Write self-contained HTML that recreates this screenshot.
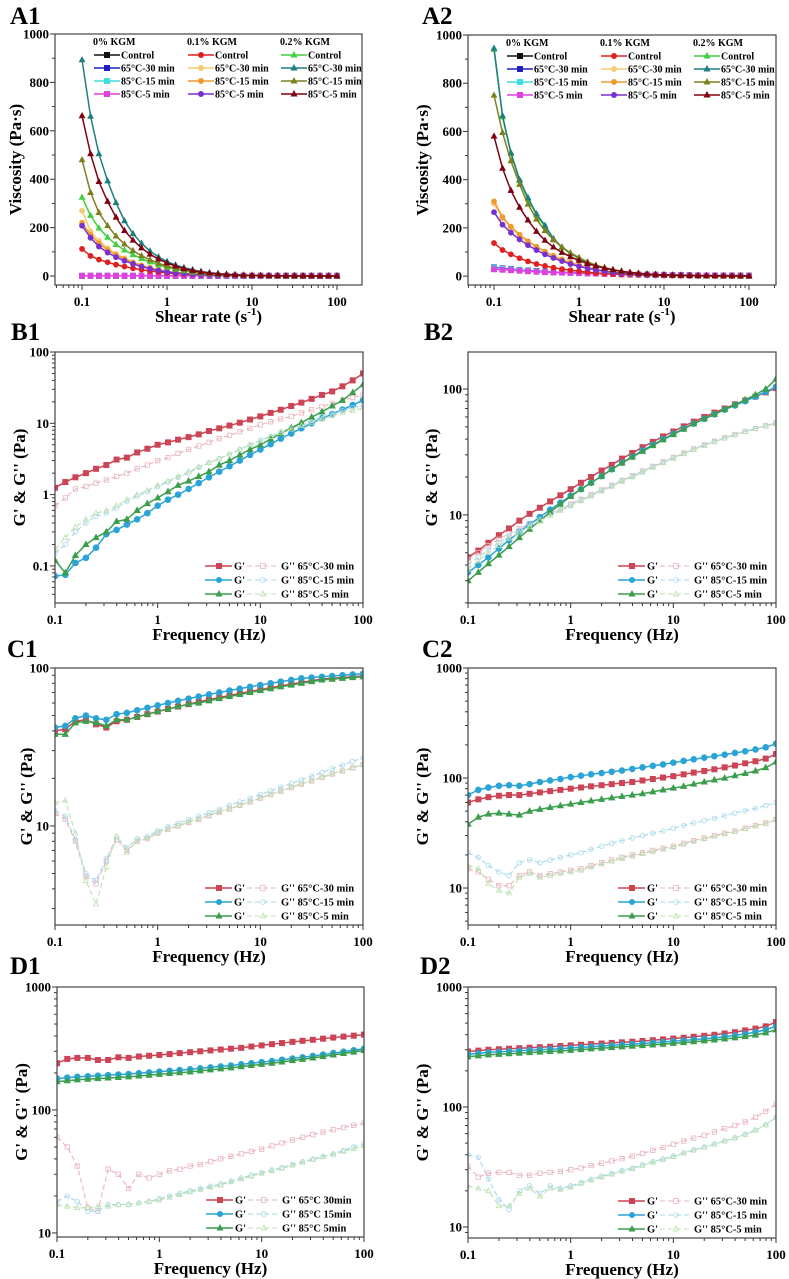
<!DOCTYPE html>
<html><head><meta charset="utf-8"><style>
html,body{margin:0;padding:0;background:#fff;}
svg{display:block;font-family:"Liberation Serif",serif;font-weight:bold;}
</style></head><body>
<svg id="fig" width="789" height="1279" viewBox="0 0 789 1279" xmlns="http://www.w3.org/2000/svg"></svg>
<script>
// ---------- shared x values ----------
const shearRates = [0.1,0.126,0.158,0.2,0.251,0.316,0.398,0.501,0.631,0.794,1,1.26,1.58,2,2.51,3.16,3.98,5.01,6.31,7.94,10,12.6,15.8,20,25.1,31.6,39.8,50.1,63.1,79.4,100];
const freqs = [0.1,0.126,0.158,0.2,0.251,0.316,0.398,0.501,0.631,0.794,1,1.26,1.58,2,2.51,3.16,3.98,5.01,6.31,7.94,10,12.6,15.8,20,25.1,31.6,39.8,50.1,63.1,79.4,100];
const viscTicks = [0,200,400,600,800,1000];
const xLogTicks = ["0.1","1","10","100"];
// ---------- A1 viscosity ----------
const a1_k0_control = [1,1,1,1,1,1,1,1,1,1,1,1,1,1,1,1,1,1,1,1,1,1,1,1,1,1,1,1,1,1,1];
const a1_k0_6530 = [1,1,1,1,1,1,1,1,1,1,1,1,1,1,1,1,1,1,1,1,1,1,1,1,1,1,1,1,1,1,1];
const a1_k0_8515 = [1,1,1,1,1,1,1,1,1,1,1,1,1,1,1,1,1,1,1,1,1,1,1,1,1,1,1,1,1,1,1];
const a1_k0_855 = [1,1,1,1,1,1,1,1,1,1,1,1,1,1,1,1,1,1,1,1,1,1,1,1,1,1,1,1,1,1,1];
const a1_k1_control = [112,83,68,57,47,39,32,26,21,17,13,10,8,6,5,4,3,2.5,2,1.5,1.2,1,0.8,0.6,0.5,0.4,0.3,0.3,0.2,0.2,0.2];
const a1_k1_6530 = [270,185,145,115,92,74,58,45,35,27,20,15,11,8,6,4.5,3.5,2.5,2,1.5,1.2,1,0.8,0.6,0.5,0.4,0.3,0.3,0.2,0.2,0.2];
const a1_k1_8515 = [220,170,135,108,87,70,55,43,33,25,19,14,10.5,8,6,4.5,3.4,2.6,2,1.5,1.2,1,0.8,0.6,0.5,0.4,0.3,0.3,0.2,0.2,0.2];
const a1_k1_855 = [208,158,122,97,78,63,50,39,30,23,17,13,10,7.5,5.6,4.2,3.2,2.4,1.8,1.4,1.1,0.9,0.7,0.6,0.5,0.4,0.3,0.3,0.2,0.2,0.2];
const a1_k2_control = [325,250,198,160,130,107,88,72,58,46,36,28,21,16,12,9,7,5,4,3,2.3,1.8,1.4,1.1,0.9,0.7,0.5,0.4,0.3,0.3,0.2];
const a1_k2_6530 = [893,660,505,393,303,228,175,135,103,79,60,46,35,26,19,14,10,7.5,5.5,4,3,2.3,1.8,1.4,1.1,0.8,0.6,0.5,0.4,0.3,0.2];
const a1_k2_8515 = [480,345,262,208,165,132,105,84,67,53,41,32,24,18,13.5,10,7.5,5.5,4,3,2.3,1.8,1.4,1.1,0.8,0.6,0.5,0.4,0.3,0.3,0.2];
const a1_k2_855 = [662,505,390,308,243,188,148,116,90,70,54,41,31,23,17,12.5,9,6.5,4.8,3.5,2.6,2,1.5,1.2,0.9,0.7,0.5,0.4,0.3,0.3,0.2];
// ---------- A2 viscosity ----------
const a2_k0_control = [30,28,26,24,22,20,18,16,15,14,13,12,11,10,9,8,7,6.5,6,5.5,5,4.5,4,3.5,3,2.8,2.5,2.2,2,1.8,1.5];
const a2_k0_6530 = [36,32,29,26,23,21,19,17,15.5,14,13,12,11,10,9,8,7,6.5,6,5.5,5,4.5,4,3.5,3,2.8,2.5,2.2,2,1.8,1.5];
const a2_k0_8515 = [33,30,27,25,22,20,18,16.5,15,14,13,12,11,10,9,8,7,6.5,6,5.5,5,4.5,4,3.5,3,2.8,2.5,2.2,2,1.8,1.5];
const a2_k0_855 = [28,26,24,22,20,18,16,15,14,13,12,11,10,9,8,7,6.5,6,5.5,5,4.5,4,3.5,3,2.8,2.5,2.2,2,1.8,1.5,1.3];
const a2_k1_control = [137,108,90,74,61,50,42,35,29,24,20,16,13,10,8,6.5,5,4,3.2,2.5,2,1.6,1.3,1,0.8,0.6,0.5,0.4,0.3,0.3,0.2];
const a2_k1_6530 = [300,240,200,170,143,120,100,83,68,55,44,35,27,21,16,12,9,7,5,4,3,2.4,1.9,1.5,1.2,0.9,0.7,0.5,0.4,0.3,0.2];
const a2_k1_8515 = [310,245,205,172,145,122,102,84,69,56,45,36,28,22,17,13,10,7.5,5.5,4,3,2.4,1.9,1.5,1.2,0.9,0.7,0.5,0.4,0.3,0.2];
const a2_k1_855 = [265,213,180,152,128,108,90,75,62,50,40,32,25,19.5,15,11.5,9,7,5,4,3,2.4,1.9,1.5,1.2,0.9,0.7,0.5,0.4,0.3,0.2];
const a2_k2_control = [940,660,508,395,320,253,205,152,118,93,73,56,43,33,25,19,14,10.5,7.7,5.8,4.3,3.3,2.5,1.9,1.4,1.1,0.8,0.6,0.5,0.4,0.3];
const a2_k2_6530 = [945,665,512,400,325,258,210,155,120,95,75,57,44,34,26,19.5,14.5,11,8,6,4.5,3.4,2.6,2,1.5,1.1,0.8,0.6,0.5,0.4,0.3];
const a2_k2_8515 = [750,595,478,380,298,236,188,150,120,96,77,59,45,35,27,20,15,11,8,6,4.5,3.4,2.6,2,1.5,1.1,0.8,0.6,0.5,0.4,0.3];
const a2_k2_855 = [580,447,355,285,232,185,148,120,98,80,65,52,42,33,26,20,15,11.5,8.5,6.5,5,3.8,2.9,2.2,1.7,1.3,1,0.7,0.5,0.4,0.3];
// ---------- B1 ----------
const b1_gp_6530 = [1.25,1.5,1.75,2.0,2.3,2.6,3.1,3.3,3.9,4.4,5.0,5.4,5.9,6.4,7.0,7.8,8.5,9.3,10.2,11.3,12.5,14,15.5,17.5,19.5,22,25,28,33,40,50];
const b1_gpp_6530 = [0.7,0.9,1.2,1.3,1.45,1.6,1.8,2.0,2.3,2.6,3.0,3.3,3.8,4.3,4.8,5.4,6.1,6.8,7.6,8.5,9.5,10.5,11.5,12.5,14,15.5,17,19,21,23,25];
const b1_gp_8515 = [0.072,0.075,0.11,0.13,0.18,0.28,0.32,0.38,0.45,0.55,0.70,0.85,1.0,1.2,1.45,1.75,2.1,2.5,3.0,3.6,4.3,5.1,6.1,7.2,8.5,10,11.8,13.5,15.5,18,21];
const b1_gpp_8515 = [0.15,0.2,0.3,0.4,0.5,0.55,0.65,0.8,0.95,1.1,1.3,1.5,1.75,2.0,2.4,2.8,3.2,3.7,4.3,5.0,5.8,6.6,7.6,8.6,9.8,11,12.3,13.5,15,16.5,18];
const b1_gp_855 = [0.12,0.08,0.14,0.2,0.25,0.3,0.42,0.45,0.6,0.75,0.9,1.1,1.35,1.55,1.8,2.1,2.6,3.0,3.6,4.3,5.0,6.0,7.2,8.6,10.2,12.2,14.5,17.5,21,27,35];
const b1_gpp_855 = [0.17,0.25,0.35,0.45,0.55,0.6,0.7,0.85,1.0,1.15,1.35,1.55,1.8,2.1,2.45,2.8,3.2,3.7,4.3,5.0,5.7,6.5,7.4,8.3,9.3,10.3,11.5,12.7,14,15,16.5];
// ---------- B2 ----------
const b2_gp_6530 = [4.6,5.2,6.0,6.9,7.8,9.0,10.2,11.4,12.8,14.3,16,18,20,22.5,25,28,31,34.5,38,42,46,50.5,55,60,65,70,75.5,81,87,94,102];
const b2_gpp_6530 = [4.4,5.0,5.7,6.4,7.1,7.8,8.5,9.3,10.2,11.2,12.2,13.3,14.5,15.8,17.2,18.8,20.5,22.3,24.3,26.4,28.6,31,33.5,36,38.5,41,43.5,46,48.5,51,54];
const b2_gp_8515 = [3.5,4.0,4.6,5.4,6.3,7.3,8.4,9.6,11,12.5,14.2,16,18,20.3,23,26,29,32.5,36,40,44,48.5,53,58,63,68.5,74,80,87,95,104];
const b2_gpp_8515 = [4.0,4.6,5.3,6.0,6.8,7.6,8.4,9.2,10.1,11.0,12,13.1,14.3,15.6,17,18.6,20.3,22.1,24.1,26.2,28.4,30.8,33.2,35.7,38.2,40.8,43.4,46,48.6,51.2,54];
const b2_gp_855 = [3.0,3.5,4.1,4.8,5.6,6.6,7.7,9.0,10.5,12.2,14,16,18,20.3,23,25.8,28.8,32,35.5,39.5,43.5,48,53,58,63,69,75,82,90,100,120];
const b2_gpp_855 = [3.7,4.3,5.0,5.7,6.5,7.3,8.1,9.0,9.9,10.8,11.8,12.9,14.1,15.4,16.8,18.4,20,21.8,23.8,25.9,28.1,30.5,33,35.5,38,40.6,43.2,45.8,48.4,51,53];
// ---------- C1 ----------
const c1_gp_6530 = [40,41,46,47,44,42,46,47,49,51,53,55,57,59,61,63,65,67,69,71,73,75,77,79,81,83,85,86,87,88,89];
const c1_gpp_6530 = [12,11,8,4.8,4.3,6,8.2,7.0,8.0,8.3,9.0,9.5,10,10.5,11,11.6,12.2,12.8,13.5,14.2,15,15.8,16.6,17.5,18.4,19.3,20.3,21.3,22.3,23.3,24.5];
const c1_gp_8515 = [42,43,48,50,48,47,51,52,54,56,58,60,62,64,66,68,70,72,74,76,78,80,82,84,86,87,88,89,90,91,92];
const c1_gpp_8515 = [12.5,11.5,8.2,5.0,4.5,6.2,8.5,7.3,8.3,8.6,9.3,9.9,10.4,11,11.5,12.1,12.8,13.5,14.2,15,15.8,16.7,17.6,18.6,19.6,20.7,21.8,23,24.3,25.6,27];
const c1_gp_855 = [38,38,45,46,45,43,47,47,49,51,53,55,57,59,60,62,64,66,68,70,72,74,76,78,80,82,84,85,86,87,88];
const c1_gpp_855 = [14,14.5,9,4.5,3.2,5.5,8.6,6.8,8.1,8.4,9.1,9.6,10.1,10.6,11.1,11.7,12.3,12.9,13.6,14.3,15.1,15.9,16.7,17.6,18.5,19.4,20.4,21.4,22.4,23.4,24.5];
// ---------- C2 ----------
const c2_gp_6530 = [60,64,67,69,70,70,72,74,76,78,80,82,84,86,88,90,92,95,98,101,104,108,112,116,120,125,130,136,142,150,165];
const c2_gpp_6530 = [15,14,12,10.5,10.5,13,14,13,13.5,14,14.5,15,16,17,18,19,20,21,22,23,24,25.5,27,28.5,30,31.5,33,35,37,39,42];
const c2_gp_8515 = [70,78,82,85,86,85,88,92,95,98,102,105,108,111,114,117,121,125,129,133,138,143,148,153,158,163,169,175,182,190,205];
const c2_gpp_8515 = [21,19,16,14,13,17,18,17,18,19,20,21,22.5,24,25.5,27,28.5,30,31.5,33,35,37,39,41,43,45.5,48,50.5,53,56,60];
const c2_gp_855 = [38,44,47,48,47,46,50,52,54,56,58,60,62,64,66,68,70,72,75,78,81,84,88,92,96,100,105,110,116,124,140];
const c2_gpp_855 = [16,15,11,9.5,9,12.5,13.5,12.5,13,13.5,14,14.5,15.5,16.5,17.5,18.5,19.5,20.5,21.5,22.5,23.5,25,26.5,28,29.5,31,32.5,34.5,36.5,38.5,42];
// ---------- D1 ----------
const d1_gp_6530 = [240,260,265,265,255,255,268,265,272,276,280,285,290,295,300,305,310,315,320,328,335,343,350,358,365,372,380,388,395,402,410];
const d1_gpp_6530 = [60,50,35,16,15,33,30,23,30,28,30,32,33,35,36,38,40,42,44,46,48,51,54,57,60,63,66,69,72,75,78];
const d1_gp_8515 = [180,183,186,188,190,192,194,196,199,202,205,208,211,214,218,222,226,230,235,240,245,250,256,262,268,275,282,290,298,306,315];
const d1_gpp_8515 = [18,20,18,15,15,17,17,17,17.5,18,19,20,21,22,23,24,25,26.5,28,29.5,31,32.5,34,36,38,40,42,44,47,50,53];
const d1_gp_855 = [170,173,176,178,180,182,184,186,189,192,195,198,201,204,208,212,216,220,225,230,235,240,246,252,258,265,272,280,288,296,305];
const d1_gpp_855 = [17,16.5,16,16,16.5,16.5,17,17,17.5,18,18.5,19.5,20.5,21.5,22.5,23.5,24.5,26,27.5,29,30.5,32,33.5,35.5,37.5,39.5,41.5,43.5,46,48.5,51];
// ---------- D2 ----------
const d2_gp_6530 = [290,295,300,303,306,309,312,315,318,322,326,330,334,338,342,346,350,355,360,366,372,378,385,392,400,410,420,435,450,470,510];
const d2_gpp_6530 = [32,26,28,28.5,28.5,27,27,28,28.5,29,30,31,32.5,34,35.5,37,39,41,43.5,46,49,52,55,58,62,66,70,75,82,92,105];
const d2_gp_8515 = [275,280,285,288,291,294,297,300,303,306,310,314,318,322,326,330,334,338,343,348,353,358,364,370,377,385,395,407,420,440,470];
const d2_gpp_8515 = [40,38,25,17,14,20,22,19,22,21,22,23.5,25,26.5,28,29.5,31,33,35,37,39,41.5,44,46.5,49,52,55.5,59,64,71,82];
const d2_gp_855 = [262,267,272,275,278,281,284,287,290,293,297,301,305,309,313,317,321,325,329,334,339,344,350,356,362,369,377,386,398,415,440];
const d2_gpp_855 = [22,21,20,15,15,19,21,18,21,20.5,21.5,23,24.5,26,27.5,29,30.5,32.5,34.5,36.5,38.5,41,43.5,46,49,52,55,59,64,71,82];

const NS = "http://www.w3.org/2000/svg";
const svg = document.getElementById('fig');
function mk(tag, attrs, parent, txt){
  const e = document.createElementNS(NS, tag);
  for (const k in attrs) e.setAttribute(k, attrs[k]);
  if (txt !== undefined) e.textContent = txt;
  (parent || svg).appendChild(e);
  return e;
}
function marker(g, shape, x, y, s, fill, stroke){
  let m;
  if (shape === 'sq') m = mk('rect', {x:x-s, y:y-s, width:2*s, height:2*s, fill:fill, stroke:stroke, 'stroke-width':0.8}, g);
  else if (shape === 'ci') m = mk('circle', {cx:x, cy:y, r:s, fill:fill, stroke:stroke, 'stroke-width':0.8}, g);
  else m = mk('polygon', {points:`${x},${y-s*1.2} ${x-s*1.1},${y+s*0.8} ${x+s*1.1},${y+s*0.8}`, fill:fill, stroke:stroke, 'stroke-width':0.8}, g);
  
  
}

function panel(cfg){
  const g = mk('g', {});
  
  
  const {L,T,R,B} = cfg;
  const xs = v => L + (Math.log10(v) - cfg.xmin) / (cfg.xmax - cfg.xmin) * (R - L);
  const ys = cfg.ylog ? (v => B - (Math.log10(v) - cfg.ymin) / (cfg.ymax - cfg.ymin) * (B - T))
                      : (v => B - (v - cfg.ymin) / (cfg.ymax - cfg.ymin) * (B - T));
  // panel label
  const pl = mk('text', {x:cfg.lx, y:cfg.ly, 'font-size':25, fill:'#000'}, g, cfg.label);
  
  
  // clip
  const cid = 'clip-' + cfg.label;
  const defs = mk('defs', {}, g);
  const cp = mk('clipPath', {id:cid}, defs);
  mk('rect', {x:L, y:T, width:R-L, height:B-T}, cp);
  // x ticks
  const xt = mk('g', {}, g);
  
  
  for (let d = Math.floor(cfg.xmin); d <= Math.ceil(cfg.xmax); d++){
    for (let k = 1; k <= 9; k++){
      const lv = d + Math.log10(k);
      if (lv < cfg.xmin - 1e-6 || lv > cfg.xmax + 1e-6) continue;
      const x = xs(Math.pow(10, lv));
      mk('line', {x1:x, x2:x, y1:B, y2:B + (k === 1 ? 5 : 3), stroke:'#333', 'stroke-width':1}, xt);
    }
  }
  xLogTicks.forEach(t => {
    const tl = mk('text', {x:xs(parseFloat(t)), y:B + 21, 'font-size':13, 'text-anchor':'middle'}, xt, t);
    
    
  });
  // y ticks
  const yt = mk('g', {}, g);
  
  
  if (cfg.ylog){
    for (let d = Math.floor(cfg.ymin); d <= Math.ceil(cfg.ymax); d++){
      for (let k = 1; k <= 9; k++){
        const lv = d + Math.log10(k);
        if (lv < cfg.ymin - 1e-6 || lv > cfg.ymax + 1e-6) continue;
        const y = ys(Math.pow(10, lv));
        mk('line', {x1:L, x2:L - (k === 1 ? 5 : 3), y1:y, y2:y, stroke:'#333', 'stroke-width':1}, yt);
      }
    }
  } else {
    for (let v = 0; v <= 1000; v += 100){
      const y = ys(v);
      mk('line', {x1:L, x2:L - (v % 200 === 0 ? 5 : 3), y1:y, y2:y, stroke:'#333', 'stroke-width':1}, yt);
    }
  }
  cfg.yticks.forEach(t => {
    const tl = mk('text', {x:L - 6, y:ys(parseFloat(t)) + 4.5, 'font-size':13, 'text-anchor':'end'}, yt, t);
    
    
  });
  // axis titles
  const xtt = mk('text', {x:(L+R)/2, y:B + 37, 'font-size':17, 'text-anchor':'middle'}, g);
  
  
  if (cfg.type === 'A'){
    xtt.textContent = 'Shear rate (s';
    mk('tspan', {'font-size':11, dy:-7}, xtt, '-1');
    mk('tspan', {dy:7}, xtt, ')');
  } else xtt.textContent = 'Frequency (Hz)';
  const ytt = mk('text', {x:0, y:0, 'font-size':17, 'text-anchor':'middle', transform:`translate(${cfg.ytx},${(T+B)/2}) rotate(-90)`}, g, cfg.type === 'A' ? 'Viscosity (Pa·s)' : "G' & G'' (Pa)");
  
  
  // series
  const plot = mk('g', {'clip-path':`url(#${cid})`}, g);
  
  
  cfg.series.forEach(s => {
    const sg = mk('g', {}, plot);
    
    
    const pts = s.data.map((v, i) => [xs(cfg.xv[i]), ys(v)]);
    mk('polyline', {points:pts.map(p => p.join(',')).join(' '), fill:'none', stroke:s.color, 'stroke-width':s.dash ? 1.1 : 1.5, 'stroke-dasharray':s.dash ? '5,3' : 'none'}, sg);
    pts.forEach(p => marker(sg, s.shape, p[0], p[1], s.ms, s.open ? 'none' : s.color, s.color));
  });
  // frame
  const fr = mk('rect', {x:L, y:T, width:R-L, height:B-T, fill:'none', stroke:'#444', 'stroke-width':1.2}, g);
  
  
  // legends
  if (cfg.type === 'A'){
    const lg = mk('g', {}, g);
    
    
    const cols = [L + 38, L + 132, L + 225];
    ['0% KGM','0.1% KGM','0.2% KGM'].forEach((h, c) => mk('text', {x:cols[c], y:T + 11, 'font-size':10}, lg, h));
    const names = ['Control','65°C-30 min','85°C-15 min','85°C-5 min'];
    cfg.series.forEach((s, i) => {
      const c = Math.floor(i / 4), r = i % 4;
      const y = T + 21 + r * 13;
      const x0 = cols[c] + 1;
      const e = mk('g', {}, lg);
      
      
      mk('line', {x1:x0, x2:x0 + 26, y1:y, y2:y, stroke:s.color, 'stroke-width':1.5}, e);
      marker(e, s.shape, x0 + 13, y, 2.6, s.color, s.color);
      mk('text', {x:x0 + 27, y:y + 3.5, 'font-size':10}, e, names[r]);
    });
  } else {
    const lg = mk('g', {}, g);
    
    
    for (let r = 0; r < 3; r++){
      const sp = cfg.series[r * 2], sd = cfg.series[r * 2 + 1];
      const y = B - 37 + r * 14;
      const e = mk('g', {}, lg);
      
      
      mk('line', {x1:R - 158, x2:R - 131, y1:y, y2:y, stroke:sp.color, 'stroke-width':1.5}, e);
      marker(e, sp.shape, R - 144, y, 2.6, sp.color, sp.color);
      mk('text', {x:R - 129, y:y + 3.5, 'font-size':10.5}, e, "G'");
      mk('line', {x1:R - 116, x2:R - 84, y1:y, y2:y, stroke:sd.color, 'stroke-width':1.1, 'stroke-dasharray':'5,3'}, e);
      marker(e, sd.shape, R - 100, y, 2.4, 'none', sd.color);
      mk('text', {x:R - 82, y:y + 3.5, 'font-size':10.5}, e, cfg.legendNames[r]);
    }
  }
}

const aStyles = [
  ['#111','sq'],['#2020c0','sq'],['#40dede','sq'],['#e040e0','sq'],
  ['#e02020','ci'],['#f6cc70','ci'],['#ee9a30','ci'],['#7a30d0','ci'],
  ['#40d040','tr'],['#1f7f7f','tr'],['#7f7f20','tr'],['#800010','tr']];
function aSeries(arrs){
  return arrs.map((d, i) => ({name:'series-' + i, data:d, color:aStyles[i][0], shape:aStyles[i][1], ms:2.5}));
}
function gSeries(a){
  return [
    {name:"g-prime-65c-30min", data:a[0], color:'#cc4455', shape:'sq', ms:2.6},
    {name:"g-double-prime-65c-30min", data:a[1], color:'#e8b4bc', shape:'sq', ms:2.2, open:true, dash:true},
    {name:"g-prime-85c-15min", data:a[2], color:'#2aa4d6', shape:'ci', ms:2.9},
    {name:"g-double-prime-85c-15min", data:a[3], color:'#a8d8ec', shape:'ci', ms:2.3, open:true, dash:true},
    {name:"g-prime-85c-5min", data:a[4], color:'#3a9e4c', shape:'tr', ms:2.7},
    {name:"g-double-prime-85c-5min", data:a[5], color:'#bde0b4', shape:'tr', ms:2.3, open:true, dash:true}];
}
const legA = ["G'' 65°C-30 min","G'' 85°C-15 min","G'' 85°C-5 min"];
const legD1 = ["G'' 65°C 30min","G'' 85°C 15min","G'' 85°C 5min"];

panel({name:'chart-a1', label:'A1', type:'A', lx:10, ly:24, L:55, T:34, R:362, B:285, xmin:-1.318, xmax:2.294, ymin:-37, ymax:1000, ylog:false, yticks:['0','200','400','600','800','1000'], ytx:21, xv:shearRates,
  series:aSeries([a1_k0_control,a1_k0_6530,a1_k0_8515,a1_k0_855,a1_k1_control,a1_k1_6530,a1_k1_8515,a1_k1_855,a1_k2_control,a1_k2_6530,a1_k2_8515,a1_k2_855])});
panel({name:'chart-a2', label:'A2', type:'A', lx:422, ly:24, L:468, T:35, R:776, B:285, xmin:-1.306, xmax:2.318, ymin:-37, ymax:1000, ylog:false, yticks:['0','200','400','600','800','1000'], ytx:428, xv:shearRates,
  series:aSeries([a2_k0_control,a2_k0_6530,a2_k0_8515,a2_k0_855,a2_k1_control,a2_k1_6530,a2_k1_8515,a2_k1_855,a2_k2_control,a2_k2_6530,a2_k2_8515,a2_k2_855])});
panel({name:'chart-b1', label:'B1', type:'G', lx:11, ly:340, L:55, T:352, R:363, B:603, xmin:-1, xmax:2, ymin:-1.52, ymax:2, ylog:true, yticks:['0.1','1','10','100'], ytx:25, xv:freqs, legendNames:legA,
  series:gSeries([b1_gp_6530,b1_gpp_6530,b1_gp_8515,b1_gpp_8515,b1_gp_855,b1_gpp_855])});
panel({name:'chart-b2', label:'B2', type:'G', lx:424, ly:340, L:468, T:352, R:776, B:603, xmin:-1, xmax:2, ymin:0.30, ymax:2.294, ylog:true, yticks:['10','100'], ytx:437, xv:freqs, legendNames:legA,
  series:gSeries([b2_gp_6530,b2_gpp_6530,b2_gp_8515,b2_gpp_8515,b2_gp_855,b2_gpp_855])});
panel({name:'chart-c1', label:'C1', type:'G', lx:7, ly:657, L:55, T:668, R:363, B:925, xmin:-1, xmax:2, ymin:0.373, ymax:2, ylog:true, yticks:['10','100'], ytx:32, xv:freqs, legendNames:legA,
  series:gSeries([c1_gp_6530,c1_gpp_6530,c1_gp_8515,c1_gpp_8515,c1_gp_855,c1_gpp_855])});
panel({name:'chart-c2', label:'C2', type:'G', lx:422, ly:657, L:468, T:668, R:776, B:925, xmin:-1, xmax:2, ymin:0.664, ymax:3, ylog:true, yticks:['10','100','1000'], ytx:428, xv:freqs, legendNames:legA,
  series:gSeries([c2_gp_6530,c2_gpp_6530,c2_gp_8515,c2_gpp_8515,c2_gp_855,c2_gpp_855])});
panel({name:'chart-d1', label:'D1', type:'G', lx:10, ly:974, L:57, T:987, R:364, B:1237, xmin:-1, xmax:2, ymin:0.967, ymax:3, ylog:true, yticks:['10','100','1000'], ytx:27, xv:freqs, legendNames:legD1,
  series:gSeries([d1_gp_6530,d1_gpp_6530,d1_gp_8515,d1_gpp_8515,d1_gp_855,d1_gpp_855])});
panel({name:'chart-d2', label:'D2', type:'G', lx:420, ly:974, L:468, T:987, R:776, B:1238, xmin:-1, xmax:2, ymin:0.908, ymax:3, ylog:true, yticks:['10','100','1000'], ytx:428, xv:freqs, legendNames:legA,
  series:gSeries([d2_gp_6530,d2_gpp_6530,d2_gp_8515,d2_gpp_8515,d2_gp_855,d2_gpp_855])});
</script>
</body></html>
